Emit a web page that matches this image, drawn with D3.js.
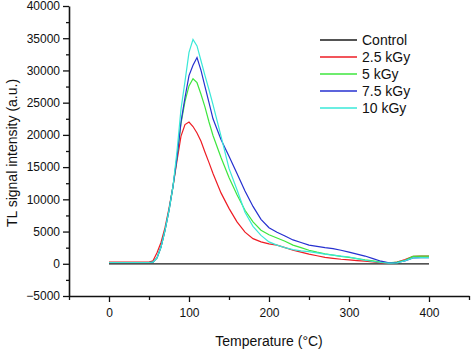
<!DOCTYPE html>
<html>
<head>
<meta charset="utf-8">
<script src="https://cdn.jsdelivr.net/npm/d3@7"></script>
<style>
	body { margin: 0; background: #fff; }
	svg text { font-family: "Liberation Sans", Arial, sans-serif; fill: #111; }
</style>
</head>
<body>
<svg id="chart" width="474" height="350"></svg>
<script>
// temperature grid (°C) shared by all curves
var temps = [0, 50, 55, 60, 65, 70, 75, 80, 85, 90, 95, 100, 105, 110, 115, 120, 125, 130,
	140, 150, 160, 170, 180, 190, 200, 210, 220, 230, 240, 250, 260, 270, 280, 290, 300,
	310, 320, 330, 340, 350, 360, 370, 380, 390, 400];

var control = [0, 0, 0, 0, 0, 0, 0, 0, 0, 0, 0, 0, 0, 0, 0, 0, 0, 0,
	0, 0, 0, 0, 0, 0, 0, 0, 0, 0, 0, 0, 0, 0, 0, 0, 0,
	0, 0, 0, 0, 0, 0, 0, 0, 0, 0];
var dose25 = [250, 250, 450, 1700, 3300, 5600, 8600, 12000, 16000, 19800, 21600, 22000, 21300, 20300, 19000, 17300, 15700, 14000,
	11000, 8600, 6500, 4900, 3900, 3400, 3100, 2900, 2500, 2100, 1800, 1500, 1250, 1000, 850, 700, 600,
	500, 400, 300, 150, 80, 250, 650, 1150, 1200, 1200];
var dose5 = [200, 200, 250, 900, 2600, 5200, 8300, 12000, 16500, 21800, 25200, 27600, 28700, 28100, 26300, 24300, 22000, 19900,
	16500, 13400, 10700, 8300, 6500, 5200, 4500, 4000, 3500, 2900, 2500, 2100, 1800, 1550, 1350, 1150, 1000,
	800, 600, 450, 250, 150, 250, 550, 1150, 1200, 1200];
var dose75 = [200, 200, 250, 900, 2600, 5200, 8300, 12000, 16500, 22000, 25800, 29200, 30800, 32000, 30000, 27500, 25000, 22500,
	19300, 16700, 14000, 11300, 8900, 6900, 5600, 4900, 4300, 3700, 3300, 2900, 2700, 2500, 2350, 2100, 1800,
	1500, 1200, 800, 400, 150, 200, 450, 900, 950, 950];
var dose10 = [200, 200, 250, 900, 2600, 5200, 8300, 12000, 17500, 24000, 28300, 32800, 34800, 33800, 31500, 29200, 27000, 24700,
	19800, 14800, 11500, 8000, 5800, 4400, 3400, 2900, 2500, 2200, 2000, 1900, 1700, 1500, 1350, 1200, 1050,
	800, 550, 350, 200, 100, 150, 500, 900, 950, 950];

var seriesNames = ["Control", "2.5 kGy", "5 kGy", "7.5 kGy", "10 kGy"];
var seriesValues = [control, dose25, dose5, dose75, dose10];
var seriesColors = ["#1a1a1a", "#ee1c24", "#3ee63e", "#2630d0", "#3ae8d8"];

var xTicks = [0, 100, 200, 300, 400];
var xMinor = [-50, 50, 150, 250, 350, 450];
var yTicks = [-5000, 0, 5000, 10000, 15000, 20000, 25000, 30000, 35000, 40000];
var yMinor = [-2500, 2500, 7500, 12500, 17500, 22500, 27500, 32500, 37500];

var svg = d3.select("#chart");

var x = d3.scaleLinear().domain([-50, 450]).range([69, 469]);
var y = d3.scaleLinear().domain([-5000, 40000]).range([296, 6]);

// minor ticks first, then the labelled axes on top
svg.append("g")
	.attr("transform", "translate(0,296)")
	.call(d3.axisBottom(x).tickValues(xMinor).tickSize(4).tickFormat(""))
	.call(function(g){ g.select(".domain").remove(); });
svg.append("g")
	.attr("transform", "translate(69,0)")
	.call(d3.axisLeft(y).tickValues(yMinor).tickSize(3).tickFormat(""))
	.call(function(g){ g.select(".domain").remove(); });

var gx = svg.append("g")
	.attr("transform", "translate(0,296)")
	.call(d3.axisBottom(x).tickValues(xTicks).tickSize(6).tickSizeOuter(0).tickPadding(6));
var gy = svg.append("g")
	.attr("transform", "translate(69,0)")
	.call(d3.axisLeft(y).tickValues(yTicks).tickSize(6).tickSizeOuter(0).tickPadding(3).tickFormat(d3.format("d")));

svg.selectAll(".tick line").attr("stroke", "#111").attr("stroke-width", 1.3);
svg.selectAll(".domain").attr("stroke", "#111").attr("stroke-width", 1.6);
svg.selectAll(".tick text").style("font-size", "12px").attr("fill", "#111");

// curves
var line = d3.line()
	.x(function(d, i){ return x(temps[i]); })
	.y(function(d){ return y(d); });

svg.append("g").selectAll("path.curve")
	.data(seriesValues)
	.enter().append("path")
		.attr("class", "curve")
		.attr("fill", "none")
		.attr("stroke", function(d, i){ return seriesColors[i]; })
		.attr("stroke-width", 1.2)
		.attr("d", line);

// legend
var legend = svg.append("g").selectAll("g.leg")
	.data(seriesNames)
	.enter().append("g")
		.attr("class", "leg")
		.attr("transform", function(d, i){ return "translate(320," + (40 + i * 17) + ")"; });
legend.append("line")
	.attr("x1", 0).attr("x2", 37)
	.attr("stroke", function(d, i){ return seriesColors[i]; })
	.attr("stroke-width", 1.5);
legend.append("text")
	.attr("x", 42).attr("y", 5)
	.style("font-size", "14px")
	.text(function(d){ return d; });

// axis titles
svg.append("text")
	.attr("x", 269).attr("y", 346)
	.attr("text-anchor", "middle")
	.style("font-size", "14px")
	.text("Temperature (°C)");
svg.append("text")
	.attr("transform", "translate(17,153) rotate(-90)")
	.attr("text-anchor", "middle")
	.style("font-size", "14px")
	.text("TL signal intensity (a.u.)");
</script>
</body>
</html>
